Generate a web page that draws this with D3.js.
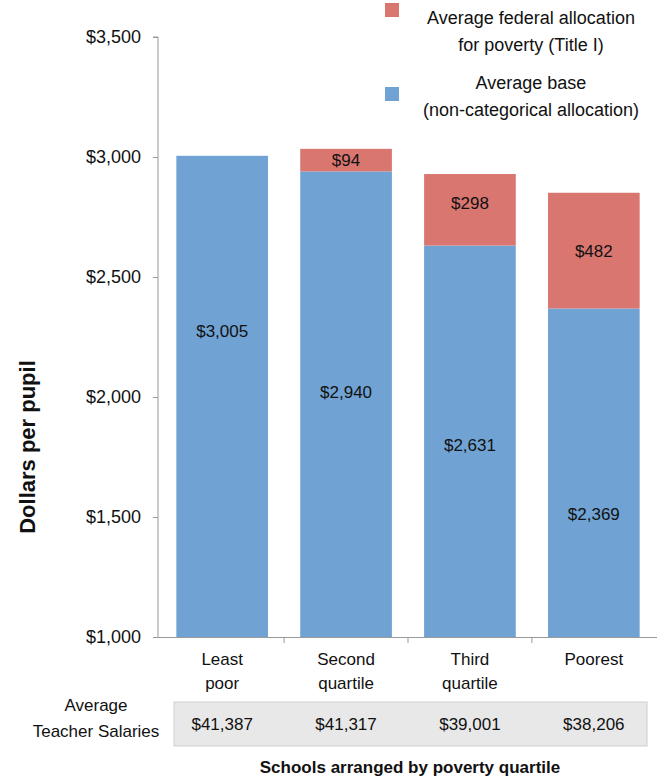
<!DOCTYPE html>
<html>
<head>
<meta charset="utf-8">
<script src="https://cdn.jsdelivr.net/npm/d3@7"></script>
<style>
  body { margin: 0; background: #fff; }
  svg text { font-family: "Liberation Sans", Arial, sans-serif; fill: #111; }
</style>
</head>
<body>
<div id="chart"></div>
<script>
var categories = [["Least", "poor"], ["Second", "quartile"], ["Third", "quartile"], ["Poorest"]];
var baseValues = [3005, 2940, 2631, 2369];
var titleOneValues = [0, 94, 298, 482];
// where the base labels sit on the bars (dollar value)
var baseLabelAt = [2275, 2020, 1800, 1512];
var salaries = ["$41,387", "$41,317", "$39,001", "$38,206"];
var yTicks = [1000, 1500, 2000, 2500, 3000, 3500];

var width = 666, height = 781;
var blue = "#70a3d3", red = "#da7670", axisGrey = "#999";

var svg = d3.select("#chart").append("svg")
    .attr("width", width)
    .attr("height", height);

var x = d3.scaleBand()
    .domain(d3.range(categories.length))
    .range([159, 657])
    .paddingInner(0.26)
    .paddingOuter(0.14);

var y = d3.scaleLinear()
    .domain([1000, 3500])
    .range([637, 37]);

var fmt = d3.format("$,");

// y axis
var yAxis = svg.append("g")
    .attr("transform", "translate(158,0)")
    .call(d3.axisLeft(y).tickValues(yTicks).tickFormat(fmt).tickSize(5).tickPadding(12));
yAxis.select(".domain").attr("stroke", axisGrey).attr("d", "M-5," + y(3500) + "H0V" + y(1000));
yAxis.selectAll(".tick line").attr("stroke", axisGrey);
yAxis.selectAll(".tick text").style("font-size", "18px").attr("fill", "#111")
    .style("font-family", "'Liberation Sans', Arial, sans-serif");

// bars
var bars = svg.append("g");
bars.selectAll("rect.base").data(baseValues).enter().append("rect")
    .attr("x", function(d, i) { return x(i); })
    .attr("width", x.bandwidth())
    .attr("y", function(d) { return y(d); })
    .attr("height", function(d) { return y(1000) - y(d); })
    .attr("fill", blue);

bars.selectAll("rect.t1").data(titleOneValues).enter().append("rect")
    .attr("x", function(d, i) { return x(i); })
    .attr("width", x.bandwidth())
    .attr("y", function(d, i) { return y(baseValues[i] + d); })
    .attr("height", function(d, i) { return y(baseValues[i]) - y(baseValues[i] + d); })
    .attr("fill", red);

// x axis
svg.append("line")
    .attr("x1", 158).attr("x2", 657)
    .attr("y1", y(1000) + 0.5).attr("y2", y(1000) + 0.5)
    .attr("stroke", axisGrey);
svg.selectAll("line.xtick").data(d3.range(1, categories.length)).enter().append("line")
    .attr("x1", function(i) { return x(i) - x.step() * x.paddingInner() / 2; })
    .attr("x2", function(i) { return x(i) - x.step() * x.paddingInner() / 2; })
    .attr("y1", y(1000)).attr("y2", y(1000) + 6)
    .attr("stroke", axisGrey);

// value labels
var cx = function(i) { return x(i) + x.bandwidth() / 2; };
svg.selectAll("text.baseLbl").data(baseValues).enter().append("text")
    .attr("x", function(d, i) { return cx(i); })
    .attr("y", function(d, i) { return y(baseLabelAt[i]); })
    .attr("dy", "0.35em")
    .attr("text-anchor", "middle")
    .style("font-size", "17px")
    .text(function(d) { return fmt(d); });

svg.selectAll("text.t1Lbl").data(titleOneValues).enter().append("text")
    .attr("x", function(d, i) { return cx(i); })
    .attr("y", function(d, i) { return y(baseValues[i] + d / 2) - (d > 200 && d < 400 ? 7 : 0); })
    .attr("dy", "0.35em")
    .attr("text-anchor", "middle")
    .style("font-size", "17px")
    .text(function(d) { return d > 0 ? fmt(d) : ""; });

// category labels
categories.forEach(function(lines, i) {
    var t = svg.append("text")
        .attr("text-anchor", "middle")
        .style("font-size", "17px");
    lines.forEach(function(l, j) {
        t.append("tspan").attr("x", cx(i)).attr("y", 665 + j * 24).text(l);
    });
});

// salary table
svg.append("rect")
    .attr("x", 174).attr("y", 702)
    .attr("width", 473).attr("height", 44)
    .attr("fill", "#e8e8e8")
    .attr("stroke", "#cfcfcf");
svg.selectAll("text.sal").data(salaries).enter().append("text")
    .attr("x", function(d, i) { return cx(i); })
    .attr("y", 730)
    .attr("text-anchor", "middle")
    .style("font-size", "17px")
    .text(function(d) { return d; });
var rowLbl = svg.append("text").attr("text-anchor", "middle").style("font-size", "17px");
rowLbl.append("tspan").attr("x", 96).attr("y", 711).text("Average");
rowLbl.append("tspan").attr("x", 96).attr("y", 737).text("Teacher Salaries");

// axis titles
svg.append("text")
    .attr("x", 410).attr("y", 773)
    .attr("text-anchor", "middle")
    .style("font-size", "17px").style("font-weight", "bold")
    .text("Schools arranged by poverty quartile");
svg.append("text")
    .attr("transform", "translate(35,447) rotate(-90)")
    .attr("text-anchor", "middle")
    .style("font-size", "22px").style("font-weight", "bold")
    .text("Dollars per pupil");

// legend
var legend = [
    { color: red, lines: ["Average federal allocation", "for poverty (Title I)"], sy: 3, ty: 24 },
    { color: blue, lines: ["Average base", "(non-categorical allocation)"], sy: 87, ty: 89 }
];
legend.forEach(function(l) {
    svg.append("rect").attr("x", 385).attr("y", l.sy).attr("width", 14).attr("height", 14).attr("fill", l.color);
    var t = svg.append("text").attr("text-anchor", "middle").style("font-size", "18px");
    l.lines.forEach(function(s, j) {
        t.append("tspan").attr("x", 531).attr("y", l.ty + j * 27).text(s);
    });
});
</script>
</body>
</html>
